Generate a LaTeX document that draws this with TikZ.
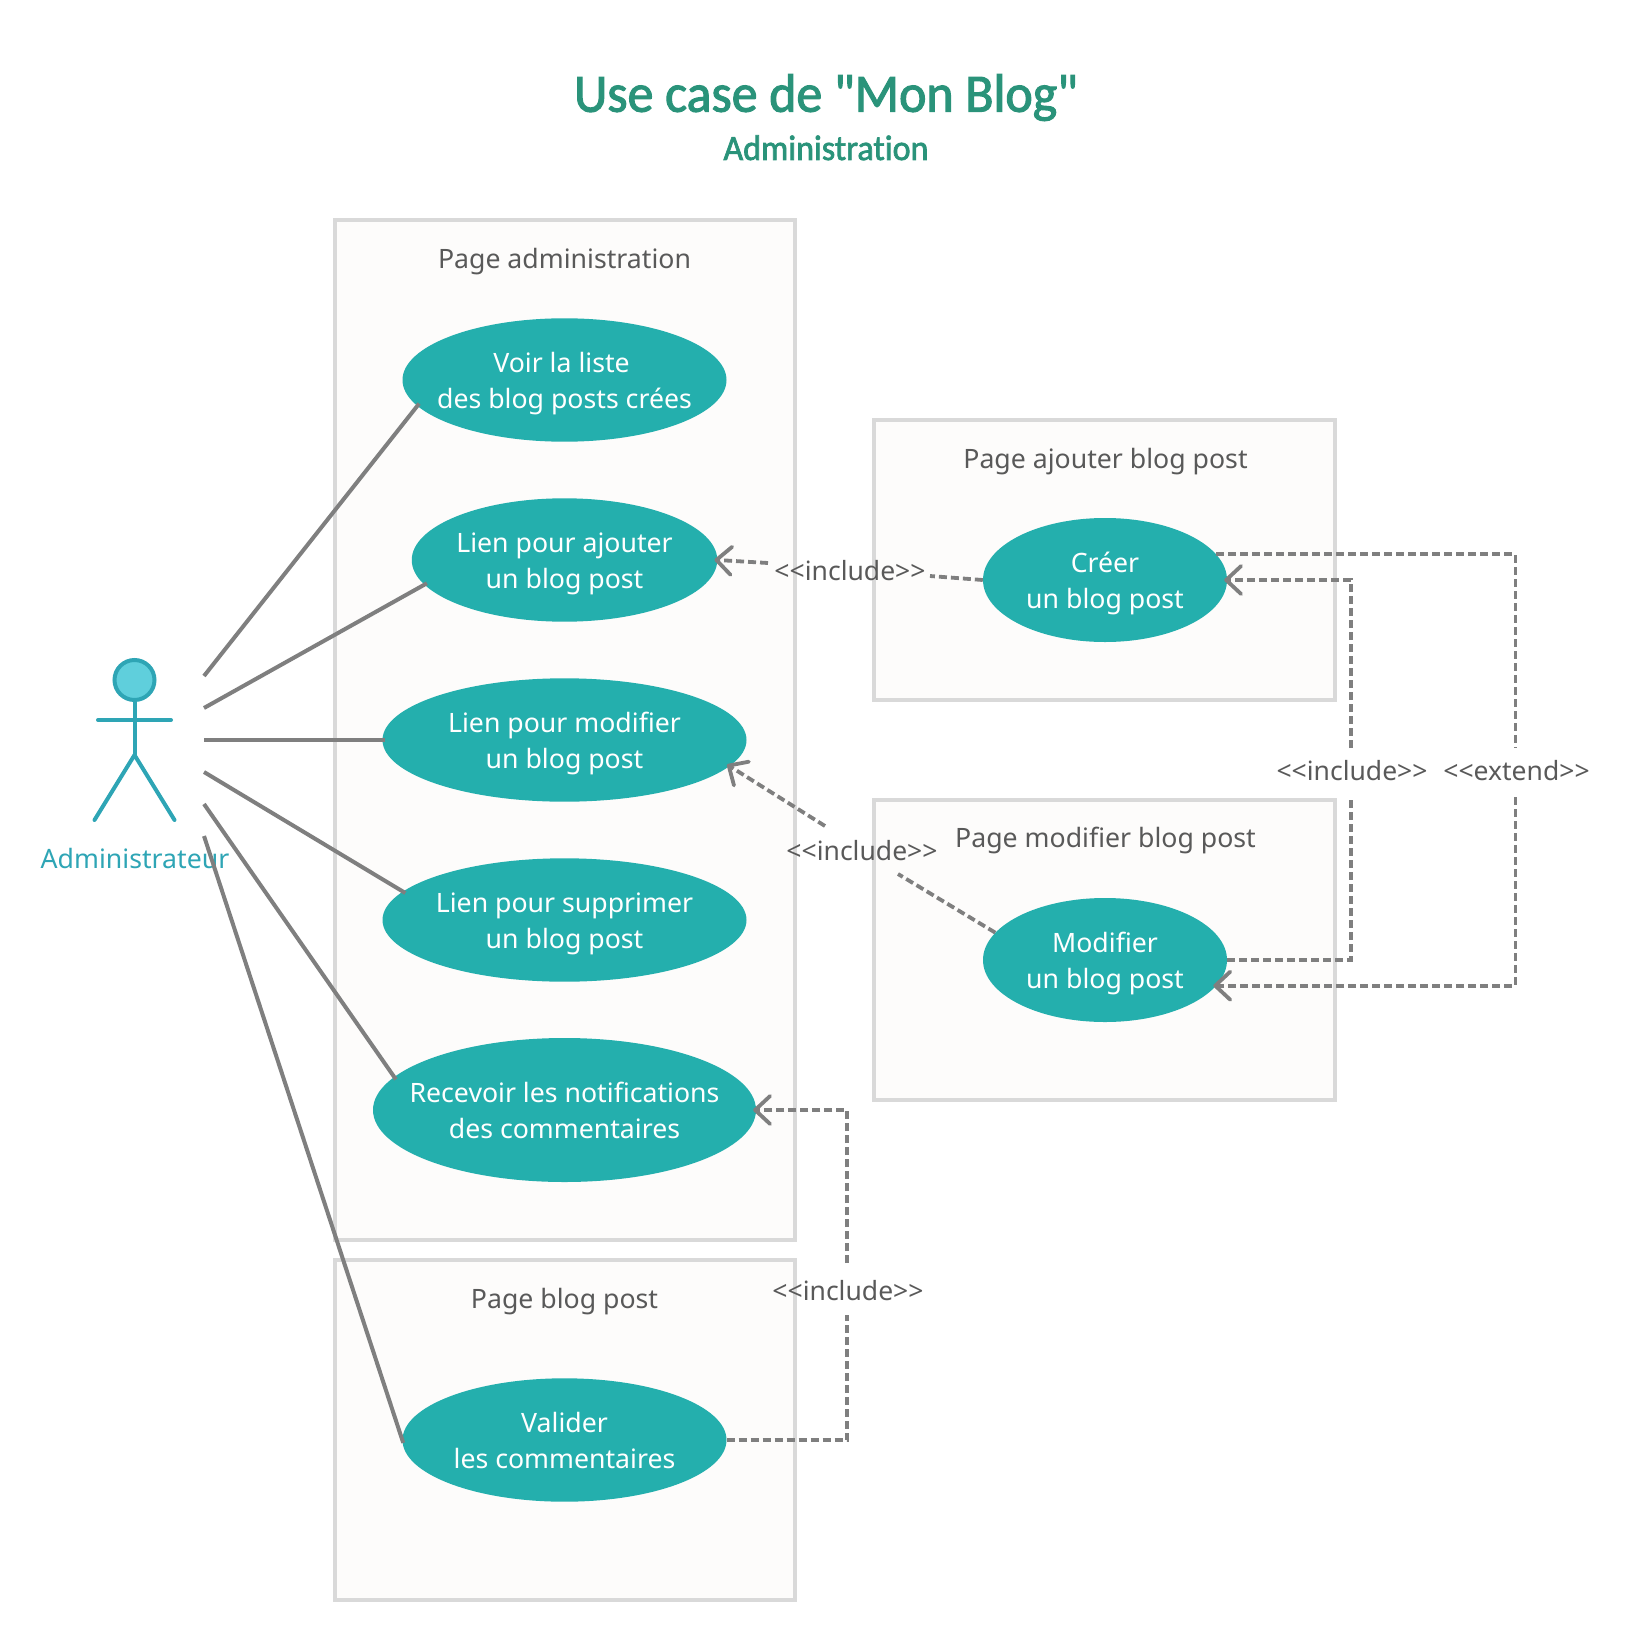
\documentclass[tikz,border=0pt]{standalone}
\usepackage{fontspec}
\usepackage{tikz}
\usetikzlibrary{shapes, arrows.meta}
\newfontfamily\notosans{Noto Sans}
\newfontfamily\carlito[Ligatures=NoCommon, FakeBold=2, FakeStretch=0.96]{Carlito}
\definecolor{casefill}{HTML}{24AFAD}
\definecolor{boxline}{HTML}{D9D9D9}
\definecolor{boxfill}{HTML}{FDFCFB}
\definecolor{conn}{HTML}{7F7F7F}
\definecolor{actorblue}{HTML}{2EA5B5}
\definecolor{actorhead}{HTML}{5FCFDC}
\definecolor{labelgray}{HTML}{595959}
\definecolor{titlegreen}{HTML}{2A937A}
\tikzset{
	usecase/.style={ellipse, fill=casefill, text=white, align=center, inner sep=-70pt, text height=62.6pt, text depth=6pt, font=\notosans\fontsize{26.67}{35.6}\selectfont},
	pagebox/.style={rectangle, draw=boxline, fill=boxfill, line width=4pt, inner sep=0pt},
	pagetitle/.style={anchor=base, text=labelgray, font=\notosans\fontsize{26.67}{36}\selectfont},
	deplabel/.style={text=labelgray, font=\notosans\fontsize{26.5}{36}\selectfont},
	assoc/.style={draw=conn, line width=4pt, shorten >=-3pt},
	dep/.style={draw=conn, line width=3.8pt, dash pattern=on 8pt off 4pt},
	depto/.style={dep, ->, shorten >=-3pt, >={Straight Barb[round, length=15pt, width=28pt]}},
	actorline/.style={draw=actorblue, line width=4pt, line cap=round}
}

\begin{document}
\begin{tikzpicture}[x=1pt, y=-1pt]
	\useasboundingbox (0,0) rectangle (1628,1640);
	% title
	\node at (826,111.7) [anchor=base, text=titlegreen, font=\carlito\fontsize{54}{60}\selectfont] (title) {Use case de "Mon Blog"};
	\node at (826,160) [anchor=base, text=titlegreen, font=\carlito\fontsize{35.5}{40}\selectfont] (subtitle) {Administration};
	% pages
	\node at (564.5,729.75) [pagebox, minimum width=460pt, minimum height=1019.5pt] (admin) {};
	\node at (564.5,1430) [pagebox, minimum width=460pt, minimum height=340pt] (blog) {};
	\node at (1104.25,559.75) [pagebox, minimum width=460.5pt, minimum height=280.5pt] (ajout) {};
	\node at (1104.25,950) [pagebox, minimum width=460.5pt, minimum height=300pt] (modif) {};
	\node at (564.5,268.5) [pagetitle] (adminT) {Page administration};
	\node at (564.5,1308.2) [pagetitle] (blogT) {Page blog post};
	\node at (1105.5,468.3) [pagetitle] (ajoutT) {Page ajouter blog post};
	\node at (1105.5,847.8) [pagetitle] (modifT) {Page modifier blog post};
	% use cases
	\node at (564.5,380) [usecase, minimum width=324pt, minimum height=123.4pt] (voir) {Voir la liste\hspace*{6pt}\\des blog posts crées};
	\node at (564.5,560) [usecase, minimum width=305.5pt, minimum height=123.4pt] (lienA) {Lien pour ajouter\\un blog post};
	\node at (564.5,740) [usecase, minimum width=364pt, minimum height=123.4pt] (lienM) {Lien pour modifier\\un blog post};
	\node at (564.5,920) [usecase, minimum width=364pt, minimum height=123.4pt] (lienS) {Lien pour supprimer\\un blog post};
	\node at (564.5,1110) [usecase, minimum width=383pt, minimum height=144pt] (recevoir) {Recevoir les notifications\\des commentaires};
	\node at (564.5,1440) [usecase, minimum width=324pt, minimum height=123.4pt] (valider) {Valider\\les commentaires};
	\node at (1105,580) [usecase, minimum width=244pt, minimum height=124pt] (creer) {Créer\\un blog post};
	\node at (1105,960) [usecase, minimum width=244pt, minimum height=124pt] (modifier) {Modifier\\un blog post};
	% actor
	\node at (134.5,680) [circle, draw=actorblue, fill=actorhead, line width=4pt, minimum size=40pt, inner sep=0pt] (head) {};
	\coordinate (hip) at (134.5,755);
	\coordinate (handL) at (98,720);
	\coordinate (handR) at (171,720);
	\coordinate (footL) at (94.5,820);
	\coordinate (footR) at (174.5,820);
	\draw[actorline] (head) -- (hip);
	\draw[actorline] (handL) -- (handR);
	\draw[actorline] (footL) -- (hip) -- (footR);
	\node at (135,868.5) [anchor=base, text=actorblue, font=\notosans\fontsize{26.67}{36}\selectfont] (admT) {Administrateur};
	% associations
	\coordinate (p1) at (204,676);
	\coordinate (p2) at (204,708);
	\coordinate (p3) at (204,740);
	\coordinate (p4) at (204,772);
	\coordinate (p5) at (204,804);
	\coordinate (p6) at (204,836);
	\draw[assoc] (p1) -- (voir.190.2);
	\draw[assoc] (p2) -- (lienA.190.9);
	\draw[assoc] (p3) -- (lienM.west);
	\draw[assoc] (p4) -- (lienS.170.9);
	\draw[assoc] (p5) -- (recevoir.169.6);
	\draw[assoc] (p6) -- (valider.west);
	% dependencies, each one stops around its label
	\coordinate (g1a) at (930,576);
	\coordinate (g1b) at (768,563);
	\draw[dep] (creer.west) -- (g1a);
	\draw[depto] (g1b) -- (lienA.east);
	\node at (850,571) [deplabel] (inc1) {<<include>>};
	\coordinate (g2a) at (898,874);
	\coordinate (g2b) at (825,826);
	\draw[dep] (modifier.166.3) -- (g2a);
	\draw[depto] (g2b) -- (lienM.351);
	\node at (862,851) [deplabel] (inc2) {<<include>>};
	\coordinate (g3a) at (1350.7,797);
	\coordinate (g3b) at (1350.7,748);
	\draw[dep] (modifier.east) -| (g3a);
	\draw[depto] (g3b) |- (creer.east);
	\node at (1352,771) [deplabel] (inc3) {<<include>>};
	\coordinate (g4a) at (1515.5,748);
	\coordinate (g4b) at (1515.5,797);
	\draw[dep] (creer.13) -| (g4a);
	\draw[depto] (g4b) |- (modifier.347);
	\node at (1516.5,771) [deplabel] (ext) {<<extend>>};
	\coordinate (g5a) at (847.3,1315);
	\coordinate (g5b) at (847.3,1263);
	\draw[dep] (valider.east) -| (g5a);
	\draw[depto] (g5b) |- (recevoir.east);
	\node at (848,1291) [deplabel] (inc4) {<<include>>};
\end{tikzpicture}
\end{document}
